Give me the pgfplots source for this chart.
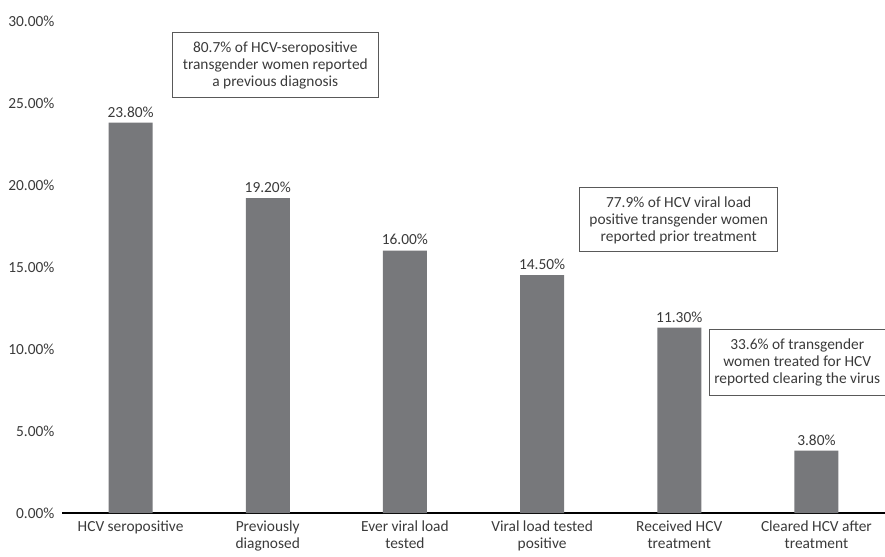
\documentclass[border=0pt]{standalone}
\usepackage{fontspec}
\setmainfont{Carlito}
\usepackage{pgfplots}
\pgfplotsset{compat=1.18}
\usetikzlibrary{calc}

\definecolor{barg}{HTML}{77787B}
\definecolor{txt}{HTML}{3A3A3A}
\definecolor{boxc}{HTML}{595959}

\begin{document}
\begin{tikzpicture}
\fontsize{7.7}{8.5}\selectfont
\begin{axis}[
    name=ax,
    scale only axis,
    width=411.5pt,
    height=246pt,
    ybar,
    bar width=22pt,
    xmin=-0.5, xmax=5.5,
    ymin=0, ymax=30,
    ytick={0,5,...,30},
    xtick=data,
    xticklabels={HCV seropositive, Previously\\diagnosed, Ever viral load\\tested, Viral load tested\\positive, Received HCV\\treatment, Cleared HCV after\\treatment},
    xticklabel style={align=center, font=\fontsize{7.7}{8.5}\selectfont, text=txt, yshift=-1pt},
    yticklabel={\pgfmathprintnumber[fixed,fixed zerofill,precision=2]{\tick}\%},
    yticklabel style={font=\fontsize{7.7}{8.5}\selectfont, text=txt, xshift=-1pt},
    /pgf/number format/assume math mode=true,
    axis x line=bottom,
    axis y line=left,
    x axis line style={black, line width=1pt, -},
    y axis line style={draw=none},
    major tick length=0pt,
    nodes near coords={\pgfmathprintnumber[fixed,fixed zerofill,precision=2]{\pgfplotspointmeta}\%},
    every node near coord/.append style={font=\fontsize{7.7}{8.5}\selectfont, text=txt},
    clip=false,
]
\addplot[fill=barg, draw=none] coordinates {(0,23.8) (1,19.2) (2,16.0) (3,14.5) (4,11.3) (5,3.8)};
\node[draw=boxc, line width=0.5pt, align=center, text=txt, minimum width=103pt, minimum height=32.5pt, inner sep=2pt] at (axis cs:1.055,27.3) {80.7\% of HCV-seropositive\\transgender women reported\\a previous diagnosis};
\node[draw=boxc, line width=0.5pt, align=center, text=txt, minimum width=99pt, minimum height=32pt, inner sep=2pt] at (axis cs:3.996,17.87) {77.9\% of HCV viral load\\positive transgender women\\reported prior treatment};
\node[draw=boxc, line width=0.5pt, align=center, text=txt, minimum width=88pt, minimum height=33pt, inner sep=2pt] at (axis cs:4.86,9.2) {33.6\% of transgender\\women treated for HCV\\reported clearing the virus};
\end{axis}
\pgfresetboundingbox
\path ($(ax.south west)+(-31pt,-21.5pt)$) rectangle ($(ax.north east)+(0,10.5pt)$);
\end{tikzpicture}
\end{document}
